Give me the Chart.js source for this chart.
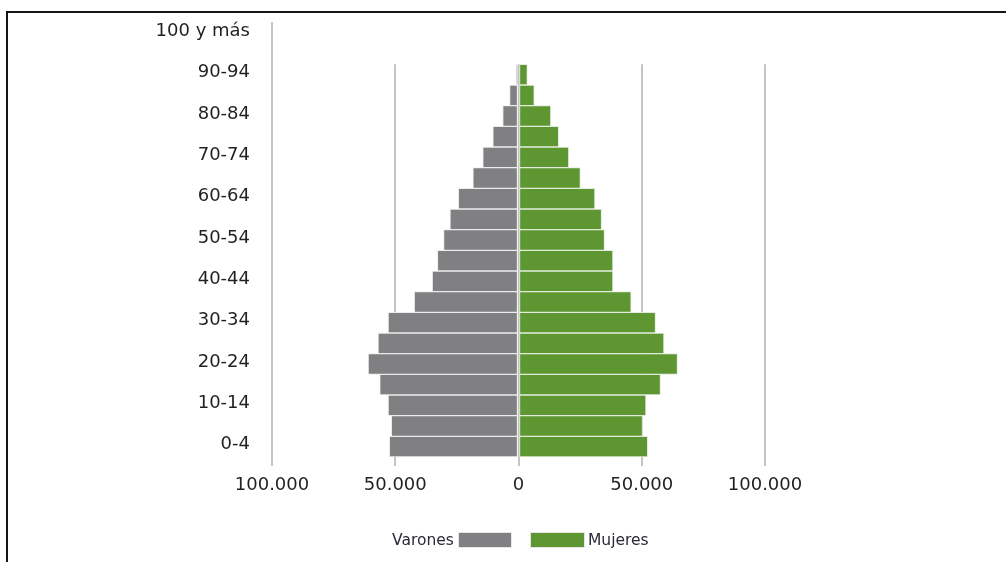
<!DOCTYPE html>
<html>
<head>
<meta charset="utf-8">
<script src="https://cdn.jsdelivr.net/npm/chart.js@4.4.0/dist/chart.umd.min.js"></script>
<style>
  html, body { margin: 0; padding: 0; background: #fff; overflow: hidden; }
  #wrap { position: relative; width: 1006px; height: 562px; }
  #frame {
    position: absolute; left: 6px; top: 11px; width: 1100px; height: 700px;
    border-top: 2px solid #151515; border-left: 2px solid #151515;
    pointer-events: none;
  }
  .leg { position: absolute; font-family: "DejaVu Sans", sans-serif; font-size: 15.5px; color: #2a2a3a; line-height: 16px; }
  .box { position: absolute; height: 16px; box-sizing: border-box; border: 1px solid #e6e6e6; }
</style>
</head>
<body>
<div id="wrap">
  <canvas id="chart" width="1006" height="562"></canvas>
  <div id="frame"></div>
  <div class="leg" style="left:392px; top:532px;">Varones</div>
  <div class="box" style="left:458px; top:532px; width:54px; background:#808083;"></div>
  <div class="box" style="left:530px; top:532px; width:55px; background:#5e9732;"></div>
  <div class="leg" style="left:588px; top:532px;">Mujeres</div>
</div>
<script>
const ageGroups = [
  '0-4', '5-9', '10-14', '15-19', '20-24', '25-29', '30-34', '35-39', '40-44', '45-49',
  '50-54', '55-59', '60-64', '65-69', '70-74', '75-79', '80-84', '85-89', '90-94', '95-99',
  '100 y más'
];
const varones = [
  52400, 51600, 52900, 56300, 61000, 57000, 52900, 42300, 35000, 32900,
  30400, 27800, 24400, 18500, 14500, 10400, 6400, 3600, 800, 0,
  0
];
const mujeres = [
  52400, 50300, 51700, 57600, 64500, 59000, 55600, 45700, 38300, 38300,
  34900, 33700, 31000, 25100, 20400, 16300, 13100, 6400, 3600, 0,
  0
];
const xTicks = [-100000, -50000, 0, 50000, 100000];

const grey = '#808083';
const green = '#5e9732';
const gridColor = '#c4c4c4';
const textColor = '#231f20';

function fmt(v) {
  return Math.abs(v).toString().replace(/\B(?=(\d{3})+(?!\d))/g, '.');
}

// vertical grid lines only over the rows that have bars
const partialGrid = {
  id: 'partialGrid',
  beforeDatasetsDraw(chart) {
    const {ctx, chartArea, scales: {x, y}} = chart;
    const half = Math.abs(y.getPixelForValue(1) - y.getPixelForValue(0)) / 2;
    const top = y.getPixelForValue(ageGroups.indexOf('90-94')) - half;
    ctx.save();
    ctx.strokeStyle = gridColor;
    ctx.lineWidth = 2;
    xTicks.slice(1).forEach(v => {
      const px = Math.round(x.getPixelForValue(v));
      ctx.beginPath();
      ctx.moveTo(px, top);
      ctx.lineTo(px, chartArea.bottom);
      ctx.stroke();
    });
    ctx.restore();
  }
};

const canvas = document.querySelector('canvas#chart');

new Chart(canvas, {
  type: 'bar',
  data: {
    labels: ageGroups,
    datasets: [{
      label: 'Varones',
      data: varones.map(v => -v),
      backgroundColor: grey,
      borderColor: 'rgba(235,235,235,0.9)',
      borderWidth: 1,
      borderSkipped: false,
      barPercentage: 1,
      categoryPercentage: 1
    }, {
      label: 'Mujeres',
      data: mujeres,
      backgroundColor: green,
      borderColor: 'rgba(225,235,220,0.9)',
      borderWidth: 1,
      borderSkipped: false,
      barPercentage: 1,
      categoryPercentage: 1
    }]
  },
  options: {
    indexAxis: 'y',
    responsive: false,
    animation: false,
    layout: {padding: {top: 23, right: 241, bottom: 65, left: 0}},
    plugins: {
      legend: {display: false},
      tooltip: {enabled: false}
    },
    scales: {
      x: {
        stacked: true,
        min: -100000,
        max: 100000,
        afterBuildTicks(scale) {
          scale.ticks = xTicks.map(v => ({value: v}));
        },
        afterFit(scale) { scale.height = 40; },
        grid: {drawOnChartArea: false, drawTicks: true, tickLength: 9, color: gridColor, lineWidth: 2},
        border: {display: false},
        ticks: {
          padding: 9,
          color: textColor,
          font: {family: 'DejaVu Sans', size: 18},
          maxRotation: 0,
          callback: v => fmt(v)
        }
      },
      y: {
        stacked: true,
        reverse: true,
        afterFit(scale) { scale.width = 272; },
        grid: {
          display: true, drawOnChartArea: false, drawTicks: true, tickLength: 20,
          tickColor: 'rgba(0,0,0,0)', color: gridColor, lineWidth: 2
        },
        border: {display: true, color: gridColor, width: 2},
        ticks: {
          autoSkip: false,
          padding: 2,
          labelOffset: -2,
          color: textColor,
          font: {family: 'DejaVu Sans', size: 18},
          callback: (v, i) => (i % 2 === 0 ? ageGroups[i] : '')
        }
      }
    }
  },
  plugins: [partialGrid]
});
</script>
</body>
</html>
